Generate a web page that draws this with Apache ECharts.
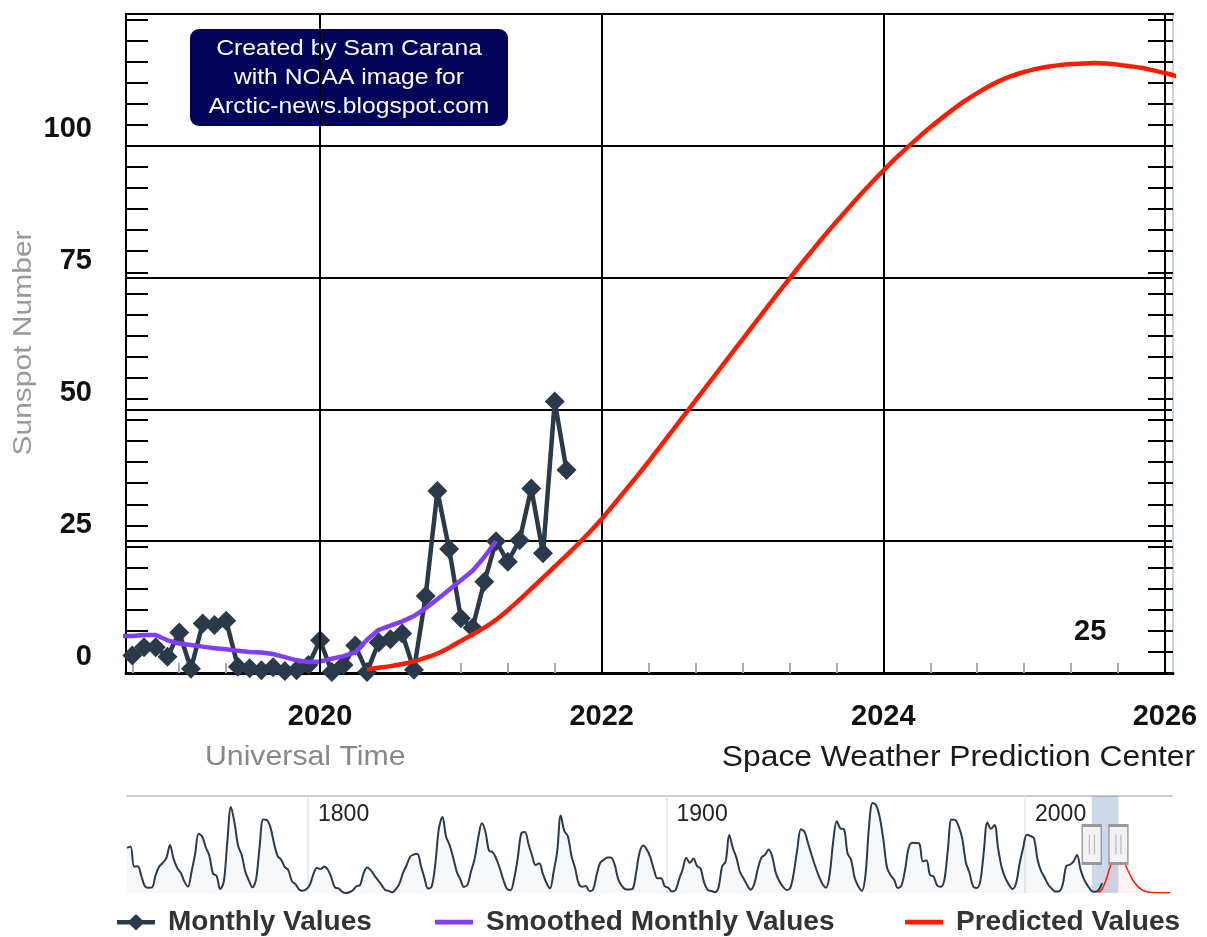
<!DOCTYPE html>
<html><head><meta charset="utf-8">
<script src="https://cdn.jsdelivr.net/npm/echarts@6/dist/echarts.min.js"></script>
<style>html,body{margin:0;padding:0;background:#fff}#c{width:1207px;height:937px}</style>
</head><body><div id="c"></div>
<script>
// ---------- DATA ----------
const monthlyStart = '2018-09';
const monthlyValues = [3.3, 4.9, 4.9, 3.1,
  7.7, 0.8, 9.4, 9.1, 9.9, 1.2, 0.9, 0.5, 1.1, 0.4, 0.5, 1.5,
  6.2, 0.2, 1.5, 5.2, 0.2, 5.8, 6.4, 7.5, 0.6, 14.6, 34.5, 23.5,
  10.4, 8.6, 17.3, 25.0, 21.1, 25.2, 35.0, 22.7, 51.5, 38.5];
const smoothStart = '2018-08';
const smoothValues = [7.0, 7.0, 7.2, 7.2, 6.2,
  5.6, 5.3, 5.0, 4.7, 4.5, 4.2, 4.0, 3.9, 3.6, 3.0, 2.4, 2.1,
  2.2, 2.7, 3.2, 3.9, 6.3, 8.2, 9.0, 9.8, 10.8, 12.3, 14.0, 15.8,
  17.6, 19.4, 22.0, 25.0];
const predStart = '2020-05';
const predValues = [0.7, 1.0, 1.3, 1.7, 2.2, 2.9, 3.7, 4.8,
  6.1, 7.3, 8.6, 10.1, 11.9, 13.9, 16.0, 18.1, 20.2, 22.3, 24.5, 26.8,
  29.2, 31.9, 34.6, 37.3, 40.1, 43.0, 45.9, 48.8, 51.7, 54.6, 57.5, 60.4,
  63.3, 66.2, 69.1, 72.0, 74.8, 77.6, 80.3, 83.0, 85.6, 88.1, 90.6, 93.0,
  95.3, 97.5, 99.6, 101.6, 103.5, 105.3, 107.0, 108.6, 110.0, 111.3, 112.4, 113.3,
  114.0, 114.6, 115.0, 115.3, 115.5, 115.6, 115.7, 115.6, 115.4, 115.1, 114.8, 114.3,
  113.8, 113.2];
const yearLabels = [2020, 2022, 2024, 2026];
const yLabels = [0, 25, 50, 75, 100];
const cycleLabel = '25';
// navigator: yearly mean sunspot numbers
const navStartYear = 1749;
const navValues = [
 134.7,139.0,79.5,79.7,51.2,20.3,16.0,17.0,54.0,79.3,
 90.0,104.8,143.2,102.0,75.2,60.7,34.8,19.0,63.0,116.3,
 176.8,168.0,136.0,110.8,58.0,51.0,11.7,33.0,154.2,257.3,
 209.8,141.3,113.5,64.2,38.0,17.0,40.2,138.2,220.0,218.2,
 196.8,149.8,111.0,100.0,78.2,68.3,35.5,26.7,10.7,6.8,
 11.3,24.2,56.7,75.0,71.8,79.2,70.3,46.8,16.8,13.5,
 4.2,0.0,2.3,8.3,20.3,23.2,59.0,76.3,68.3,52.9,
 38.5,24.2,9.2,6.3,2.2,11.4,28.2,59.9,83.0,108.5,
 115.2,117.4,80.8,44.3,13.4,19.5,85.8,192.7,227.3,168.7,
 143.0,105.5,63.3,40.3,18.1,25.1,65.8,102.7,166.3,208.3,
 182.5,126.3,122.0,102.7,74.1,39.0,12.7,8.2,43.4,104.4,
 178.3,182.2,146.6,112.1,83.5,89.2,57.8,30.7,13.9,62.8,
 123.6,232.0,185.3,169.2,110.1,74.5,28.3,18.9,20.7,5.7,
 10.0,53.7,90.5,99.0,106.1,105.8,86.3,42.4,21.8,11.2,
 10.4,11.8,59.5,121.7,142.0,130.0,106.6,69.4,43.8,44.4,
 20.2,15.7,4.6,8.5,40.8,70.1,105.5,90.1,102.8,80.9,
 73.2,30.9,9.5,6.0,2.4,16.1,79.0,95.0,173.6,134.6,
 105.7,62.7,43.5,23.7,9.7,27.9,74.0,106.5,114.7,129.7,
 108.2,59.4,35.1,18.6,9.2,14.6,60.2,132.8,190.6,182.6,
 148.0,113.0,79.2,50.8,27.1,16.1,55.3,154.3,214.7,193.0,
 190.7,118.9,98.3,45.0,20.1,6.6,54.2,200.7,269.3,261.7,
 225.1,159.0,76.4,53.4,39.9,15.0,22.0,66.8,132.9,150.2,
 149.4,148.0,94.4,97.6,54.1,49.2,22.5,18.4,39.3,131.0,
 220.1,218.9,198.9,162.4,91.0,60.5,20.6,14.8,33.9,123.0,
 211.1,191.8,203.3,133.0,76.1,44.9,25.1,11.6,28.9,88.3,
 136.3,173.9,170.4,163.6,99.3,65.3,45.8,24.7,12.6,4.2,
 4.8,24.9,80.8,84.5,94.0,113.3,69.8,39.8,21.7,7.0,
 3.6,8.8,29.6];
const navPredStartYear = 2020;
const navPredValues = [2, 12, 36, 70, 100, 114, 112, 95, 72, 50, 32, 19, 10, 5, 2.5, 1.5, 1, 1, 1, 1, 1];
const navYearLabels = [1800, 1900, 2000];

// ---------- helpers ----------
function monthToYear(s, offset) {
  const y = +s.slice(0, 4), m = +s.slice(5, 7) - 1 + offset;
  return y + Math.floor(m / 12) + (m % 12) / 12;
}
function monthSeries(start, vals) { return vals.map((v, i) => [monthToYear(start, i), v]); }
function yearSeries(start, vals) { return vals.map((v, i) => [start + i + 0.5, v]); }

const X_MIN = 2018.622, X_MAX = 2026.057;
const minorTicks = [];
for (let t = 2018 + 8 / 12; t < X_MAX; t += 1 / 3) minorTicks.push(+t.toFixed(4));

const FONT = 'Liberation Sans, Arial, sans-serif';
const C_MON = '#2a3a4b', C_SM = '#7f3ff7', C_PR = '#ff1a00';
const LINE_ICON = 'path://M0,0L0,0M0,20L0,20M0,7.8L38,7.8L38,12.6L0,12.6Z';
const DIAMOND_ICON = 'path://M0,0L0,0M0,20L0,20M0,8L38,8L38,12.4L0,12.4Z M19,2L27.5,10.2L19,18.4L10.5,10.2Z';
const legendBase = { itemWidth: 38, itemHeight: 20, top: 903,
  textStyle: { fontSize: 28, fontWeight: 'bold', color: '#333', fontFamily: FONT, padding: [0, 0, 0, 8] } };

const chart = echarts.init(document.getElementById('c'), null, { renderer: 'canvas' });
chart.setOption({
  animation: false,
  backgroundColor: '#fff',
  textStyle: { fontFamily: FONT },
  grid: [
    { left: 126, right: 34, top: 14, bottom: 264, show: false },
    { left: 127, right: 35, top: 796, height: 97, show: false }
  ],
  xAxis: [
    { type: 'value', gridIndex: 0, min: X_MIN, max: X_MAX, position: 'bottom',
      axisLine: { show: true, onZero: false, lineStyle: { color: '#000', width: 3 } },
      axisTick: { show: true, inside: true, length: 10, customValues: minorTicks, lineStyle: { color: '#aaa', width: 2 } },
      axisLabel: { show: true, customValues: yearLabels, margin: 29, fontSize: 29, fontWeight: 'bold', color: '#111', fontFamily: FONT, formatter: v => String(Math.round(v)) },
      splitLine: { show: false } },
    { type: 'value', gridIndex: 0, min: X_MIN, max: X_MAX, position: 'top',
      axisLine: { show: true, onZero: false, lineStyle: { color: '#000', width: 2 } },
      axisTick: { show: false }, axisLabel: { show: false }, splitLine: { show: false } },
    { type: 'value', gridIndex: 1, min: 1749.51, max: 2041.0, position: 'top',
      axisLine: { show: true, onZero: false, lineStyle: { color: '#cccccc', width: 2 } },
      axisTick: { show: true, inside: true, length: 97, customValues: navYearLabels, lineStyle: { color: '#e3e3e3', width: 1.5 } },
      axisLabel: { show: true, inside: true, customValues: navYearLabels, align: 'left', verticalAlign: 'top', padding: [0, 0, 0, 10], margin: 7, fontSize: 23, color: '#222', fontFamily: FONT, formatter: v => String(Math.round(v)) },
      splitLine: { show: false } }
  ],
  yAxis: [
    { type: 'value', gridIndex: 0, min: 0, max: 125, interval: 25,
      axisLine: { show: true, lineStyle: { color: '#000', width: 2 } },
      axisTick: { show: false },
      axisLabel: { show: true, margin: 34, fontSize: 29, fontWeight: 'bold', color: '#111', fontFamily: FONT,
        verticalAlign: 'bottom', padding: [0, 0, 2, 0], showMaxLabel: false,
        formatter: v => (yLabels.indexOf(v) >= 0 ? String(v) : '') },
      splitLine: { show: true, lineStyle: { color: '#000', width: 2 } } },
    { type: 'value', gridIndex: 0, min: 0, max: 125, interval: 4, position: 'left',
      axisLine: { show: false }, axisLabel: { show: false }, splitLine: { show: false },
      axisTick: { show: true, inside: true, length: 22, lineStyle: { color: '#000', width: 2 } } },
    { type: 'value', gridIndex: 0, min: 0, max: 125, interval: 4, position: 'right',
      axisLine: { show: true, lineStyle: { color: '#c8d4ec', width: 2 } }, axisLabel: { show: false }, splitLine: { show: false },
      axisTick: { show: true, inside: true, length: 25, lineStyle: { color: '#000', width: 2 } } },
    { type: 'value', gridIndex: 1, min: 0, max: 290, show: false }
  ],
  legend: [
    Object.assign({ left: 112, data: [{ name: 'Monthly Values', icon: DIAMOND_ICON }] }, legendBase),
    Object.assign({ left: 430, data: [{ name: 'Smoothed Monthly Values', icon: LINE_ICON }] }, legendBase),
    Object.assign({ left: 900, data: [{ name: 'Predicted Values', icon: LINE_ICON }] }, legendBase)
  ],
  series: [
    { name: 'gridX', type: 'line', xAxisIndex: 0, yAxisIndex: 0, data: [], z: 1, silent: true,
      markLine: { silent: true, symbol: ['none', 'none'], label: { show: false }, animation: false,
        lineStyle: { color: '#000', width: 2, type: 'solid' },
        data: yearLabels.map(y => ({ xAxis: y })) } },
    { name: 'Monthly Values', type: 'line', xAxisIndex: 0, yAxisIndex: 0, z: 3,
      data: monthSeries(monthlyStart, monthlyValues),
      symbol: 'diamond', symbolSize: 20, showAllSymbol: true,
      lineStyle: { color: C_MON, width: 4.5 }, itemStyle: { color: C_MON } },
    { name: 'Smoothed Monthly Values', type: 'line', xAxisIndex: 0, yAxisIndex: 0, z: 4,
      data: monthSeries(smoothStart, smoothValues), symbol: 'none',
      lineStyle: { color: C_SM, width: 4.5 }, itemStyle: { color: C_SM } },
    { name: 'Predicted Values', type: 'line', xAxisIndex: 0, yAxisIndex: 0, z: 5,
      data: monthSeries(predStart, predValues), symbol: 'none', smooth: 0.25,
      lineStyle: { color: C_PR, width: 4.5 }, itemStyle: { color: C_PR } },
    { name: 'navHistory', type: 'line', xAxisIndex: 2, yAxisIndex: 3, z: 3,
      data: yearSeries(navStartYear, navValues), symbol: 'none', smooth: 0.35,
      lineStyle: { color: C_MON, width: 2 }, areaStyle: { color: 'rgba(42,58,75,0.05)' },
      markArea: { silent: true, itemStyle: { color: 'rgba(102,133,194,0.32)' },
        data: [[{ xAxis: X_MIN }, { xAxis: X_MAX }]] } },
    { name: 'navPred', type: 'line', xAxisIndex: 2, yAxisIndex: 3, z: 3,
      data: yearSeries(navPredStartYear, navPredValues), symbol: 'none', smooth: 0.35,
      lineStyle: { color: C_PR, width: 1.5 }, areaStyle: { color: 'rgba(255,0,0,0.06)' },
      markPoint: { silent: true, label: { show: false },
        data: [
          { coord: [X_MIN, 145], symbol: 'rect', symbolSize: [19, 38], itemStyle: { color: '#f2f2f2', borderColor: '#999', borderWidth: 2 } },
          { coord: [X_MAX, 145], symbol: 'rect', symbolSize: [19, 38], itemStyle: { color: '#f2f2f2', borderColor: '#999', borderWidth: 2 } },
          { coord: [X_MIN, 145], symbol: 'path://M0,0L0,10M4,0L4,10', symbolSize: [5, 20], itemStyle: { color: 'none', borderColor: '#999', borderWidth: 1.5 } },
          { coord: [X_MAX, 145], symbol: 'path://M0,0L0,10M4,0L4,10', symbolSize: [5, 20], itemStyle: { color: 'none', borderColor: '#999', borderWidth: 1.5 } }
        ] } }
  ],
  graphic: [
    { type: 'group', left: 190, top: 29, children: [
      { type: 'rect', shape: { x: 0, y: 0, width: 318, height: 97, r: 9 }, style: { fill: '#03035a' } },
      { type: 'text', x: 159, y: 49, scaleX: 1.12, style: { text: 'Created by Sam Carana\nwith NOAA image for\nArctic-news.blogspot.com', fill: '#fff', font: '22px ' + FONT, align: 'center', verticalAlign: 'middle', lineHeight: 29 } }
    ] },
    { type: 'text', x: 1074, y: 632, style: { text: cycleLabel, fill: '#111', font: 'bold 29px ' + FONT, verticalAlign: 'middle' } },
    { type: 'text', x: 24, y: 343, rotation: Math.PI / 2, scaleX: 1.2, style: { text: 'Sunspot Number', fill: '#999', font: '25px ' + FONT, align: 'center', verticalAlign: 'middle' } },
    { type: 'text', x: 205, y: 758, scaleX: 1.12, style: { text: 'Universal Time', fill: '#888', font: '27px ' + FONT, verticalAlign: 'middle' } },
    { type: 'text', x: 1195, y: 758, scaleX: 1.06, style: { text: 'Space Weather Prediction Center', fill: '#1a1a1a', font: '30px ' + FONT, align: 'right', verticalAlign: 'middle' } }
  ]
});
</script></body></html>
